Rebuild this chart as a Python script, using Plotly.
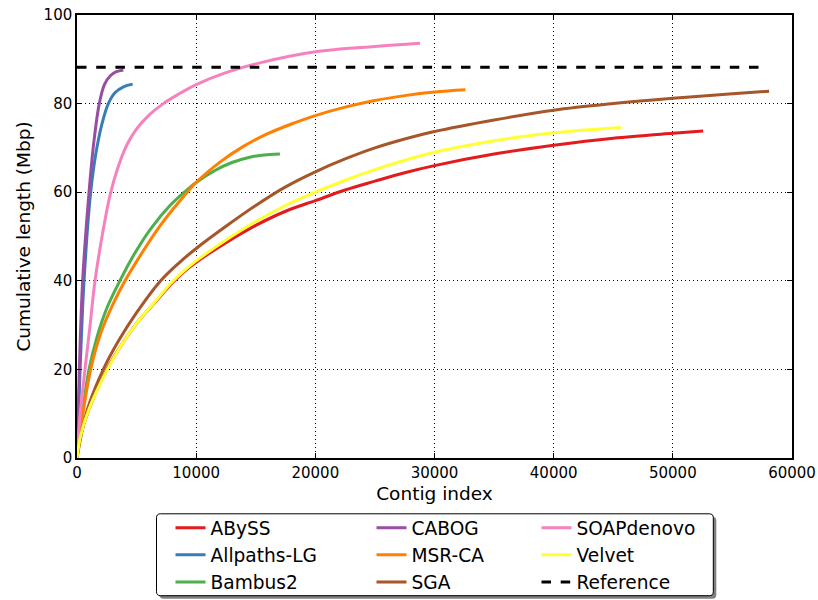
import plotly.graph_objects as go

# Cumulative contig length (Mbp) against contig index, per assembler
abyss_x = [0, 300, 1000, 2500, 3700, 5000, 6500, 8030, 9000, 10000, 12500, 15000, 17500, 20000, 22500, 25000, 27500, 30000, 35000, 40000, 45000, 50000, 52540]
abyss_y = [0, 5, 11, 20, 25.4, 30.4, 35.0, 39.6, 42.1, 44.2, 48.6, 52.5, 55.7, 58.1, 60.5, 62.5, 64.4, 66.0, 68.6, 70.6, 72.2, 73.3, 73.8]

allpaths_x = [0, 100, 260, 590, 1150, 1600, 2100, 2630, 3200, 3900, 4670]
allpaths_y = [0, 8, 20, 40, 60, 69, 75.5, 80, 82.5, 83.8, 84.4]

bambus_x = [0, 300, 1010, 1700, 2500, 3600, 4800, 6200, 7800, 9000, 10000, 11500, 13000, 14500, 15350, 16200, 17030]
bambus_y = [0, 7, 20, 27.5, 33.8, 40, 46, 51.8, 57.0, 60.0, 62.2, 64.8, 66.7, 67.9, 68.3, 68.5, 68.6]

cabog_x = [0, 80, 195, 475, 1010, 1400, 1870, 2300, 2800, 3300, 3890]
cabog_y = [0, 8, 20, 40, 60, 71, 80, 84.3, 86.3, 87.2, 87.6]

msrca_x = [0, 300, 1150, 2000, 3000, 4030, 5500, 7000, 8500, 10000, 12000, 14000, 16000, 18000, 20000, 22500, 25000, 27500, 30000, 32600]
msrca_y = [0, 6.5, 20, 28.2, 34.6, 40, 46.5, 52.5, 57.6, 62.2, 66.8, 70.4, 73.2, 75.4, 77.3, 79.2, 80.7, 81.8, 82.6, 83.1]

sga_x = [0, 500, 1000, 2210, 3500, 5000, 7020, 8500, 10000, 12500, 15000, 17500, 20000, 22500, 25000, 27500, 30000, 35000, 40000, 45000, 50000, 55000, 58080]
sga_y = [0, 7, 12, 20, 26.5, 32.8, 40.0, 43.9, 47.3, 52.3, 57.0, 61.2, 64.6, 67.5, 70.0, 72.0, 73.7, 76.3, 78.5, 80.0, 81.2, 82.2, 82.8]

soap_x = [0, 200, 670, 1100, 1510, 2100, 2770, 3400, 4170, 5000, 6000, 7240, 8500, 10000, 12500, 15350, 20000, 25000, 28780]
soap_y = [0, 8, 20, 30, 40, 50, 59.3, 65.3, 70.6, 74.3, 77.3, 80.0, 82.1, 84.3, 87, 89.2, 91.7, 92.9, 93.6]

velvet_x = [0, 300, 1000, 2545, 3700, 5000, 6500, 7940, 9000, 10000, 12500, 15000, 17500, 20000, 22500, 25000, 27500, 30000, 35000, 40000, 45640]
velvet_y = [0, 5, 11, 20, 25.4, 30.4, 35.1, 39.6, 42.3, 44.5, 49.2, 53.4, 57.0, 60.0, 62.7, 65.1, 67.2, 69.0, 71.6, 73.4, 74.6]

reference_x = [0, 57300]
reference_y = [88.2, 88.2]

x_ticks = [0, 10000, 20000, 30000, 40000, 50000, 60000]
y_ticks = [0, 20, 40, 60, 80, 100]

FONT = "DejaVu Sans"

series = [
    ("ABySS", abyss_x, abyss_y, "#e41a1c", "legend"),
    ("Allpaths-LG", allpaths_x, allpaths_y, "#377eb8", "legend"),
    ("Bambus2", bambus_x, bambus_y, "#4daf4a", "legend"),
    ("CABOG", cabog_x, cabog_y, "#984ea3", "legend2"),
    ("MSR-CA", msrca_x, msrca_y, "#ff7f00", "legend2"),
    ("SGA", sga_x, sga_y, "#a65628", "legend2"),
    ("SOAPdenovo", soap_x, soap_y, "#f781bf", "legend3"),
    ("Velvet", velvet_x, velvet_y, "#ffff33", "legend3"),
]

fig = go.Figure()
for name, xs, ys, color, leg in series:
    fig.add_trace(go.Scatter(
        x=xs, y=ys, name=name, mode="lines", legend=leg,
        line=dict(color=color, width=3, shape="spline", smoothing=1.0),
    ))
fig.add_trace(go.Scatter(
    x=reference_x, y=reference_y, name="Reference", mode="lines", legend="legend3",
    line=dict(color="black", width=3, dash="9.5px,9.7px"),
))

# plot-area geometry in pixels
L, R, T, B = 77, 26, 15, 142
W_FIG, H_FIG = 818, 600
PW, PH = W_FIG - L - R, H_FIG - T - B


def px_to_paper(px, py):
    return (px - L) / PW, (H_FIG - B - py) / PH


def rounded_box(x0, y0, x1, y1, r):
    def p(px, py):
        a, b = px_to_paper(px, py)
        return f"{a:.5f},{b:.5f}"
    return (f"M {p(x0 + r, y0)} L {p(x1 - r, y0)} Q {p(x1, y0)} {p(x1, y0 + r)} "
            f"L {p(x1, y1 - r)} Q {p(x1, y1)} {p(x1 - r, y1)} "
            f"L {p(x0 + r, y1)} Q {p(x0, y1)} {p(x0, y1 - r)} "
            f"L {p(x0, y0 + r)} Q {p(x0, y0)} {p(x0 + r, y0)} Z")


# legend frame with drop shadow
bx0, by0, bx1, by1 = 156.5, 513.8, 713.3, 595.7
fig.add_shape(type="path", xref="paper", yref="paper",
              path=rounded_box(bx0 + 3, by0 + 3, bx1 + 3, by1 + 3, 4),
              fillcolor="rgba(0,0,0,0.5)", line=dict(width=0))
fig.add_shape(type="path", xref="paper", yref="paper",
              path=rounded_box(bx0, by0, bx1, by1, 4),
              fillcolor="white", line=dict(color="black", width=1))

leg_font = dict(family=FONT, size=18.6, color="black")
leg_common = dict(font=leg_font, bgcolor="rgba(0,0,0,0)", borderwidth=0,
                  orientation="v", xanchor="left", yanchor="top",
                  itemwidth=30, tracegroupgap=0)
leg_top = px_to_paper(0, 509.1)[1]
fig.update_layout(
    legend=dict(x=px_to_paper(170.5, 0)[0], y=leg_top, **leg_common),
    legend2=dict(x=px_to_paper(371.5, 0)[0], y=leg_top, **leg_common),
    legend3=dict(x=px_to_paper(536.5, 0)[0], y=leg_top, **leg_common),
)

axis_common = dict(
    showline=True, linecolor="black", linewidth=1.5, mirror="ticks",
    ticks="inside", ticklen=5, tickwidth=1, tickcolor="black",
    showgrid=True, gridcolor="black", gridwidth=0.8, griddash="1px,3px",
    zeroline=False, tickfont=dict(family=FONT, size=15, color="black"),
)

fig.update_xaxes(range=[0, 60000], tickvals=x_ticks, ticktext=[str(v) for v in x_ticks],
                 title=dict(text="Contig index", font=dict(family=FONT, size=18.5, color="black"), standoff=6),
                 **axis_common)
fig.update_yaxes(range=[0, 100], tickvals=y_ticks, ticktext=[str(v) for v in y_ticks],
                 title=dict(text="Cumulative length (Mbp)", font=dict(family=FONT, size=18.5, color="black"), standoff=8),
                 **axis_common)

fig.update_layout(
    width=W_FIG, height=H_FIG,
    margin=dict(l=L, r=R, t=T, b=B, autoexpand=False),
    paper_bgcolor="white", plot_bgcolor="white",
    font=dict(family=FONT, color="black"),
)

fig.write_html("out.html")
